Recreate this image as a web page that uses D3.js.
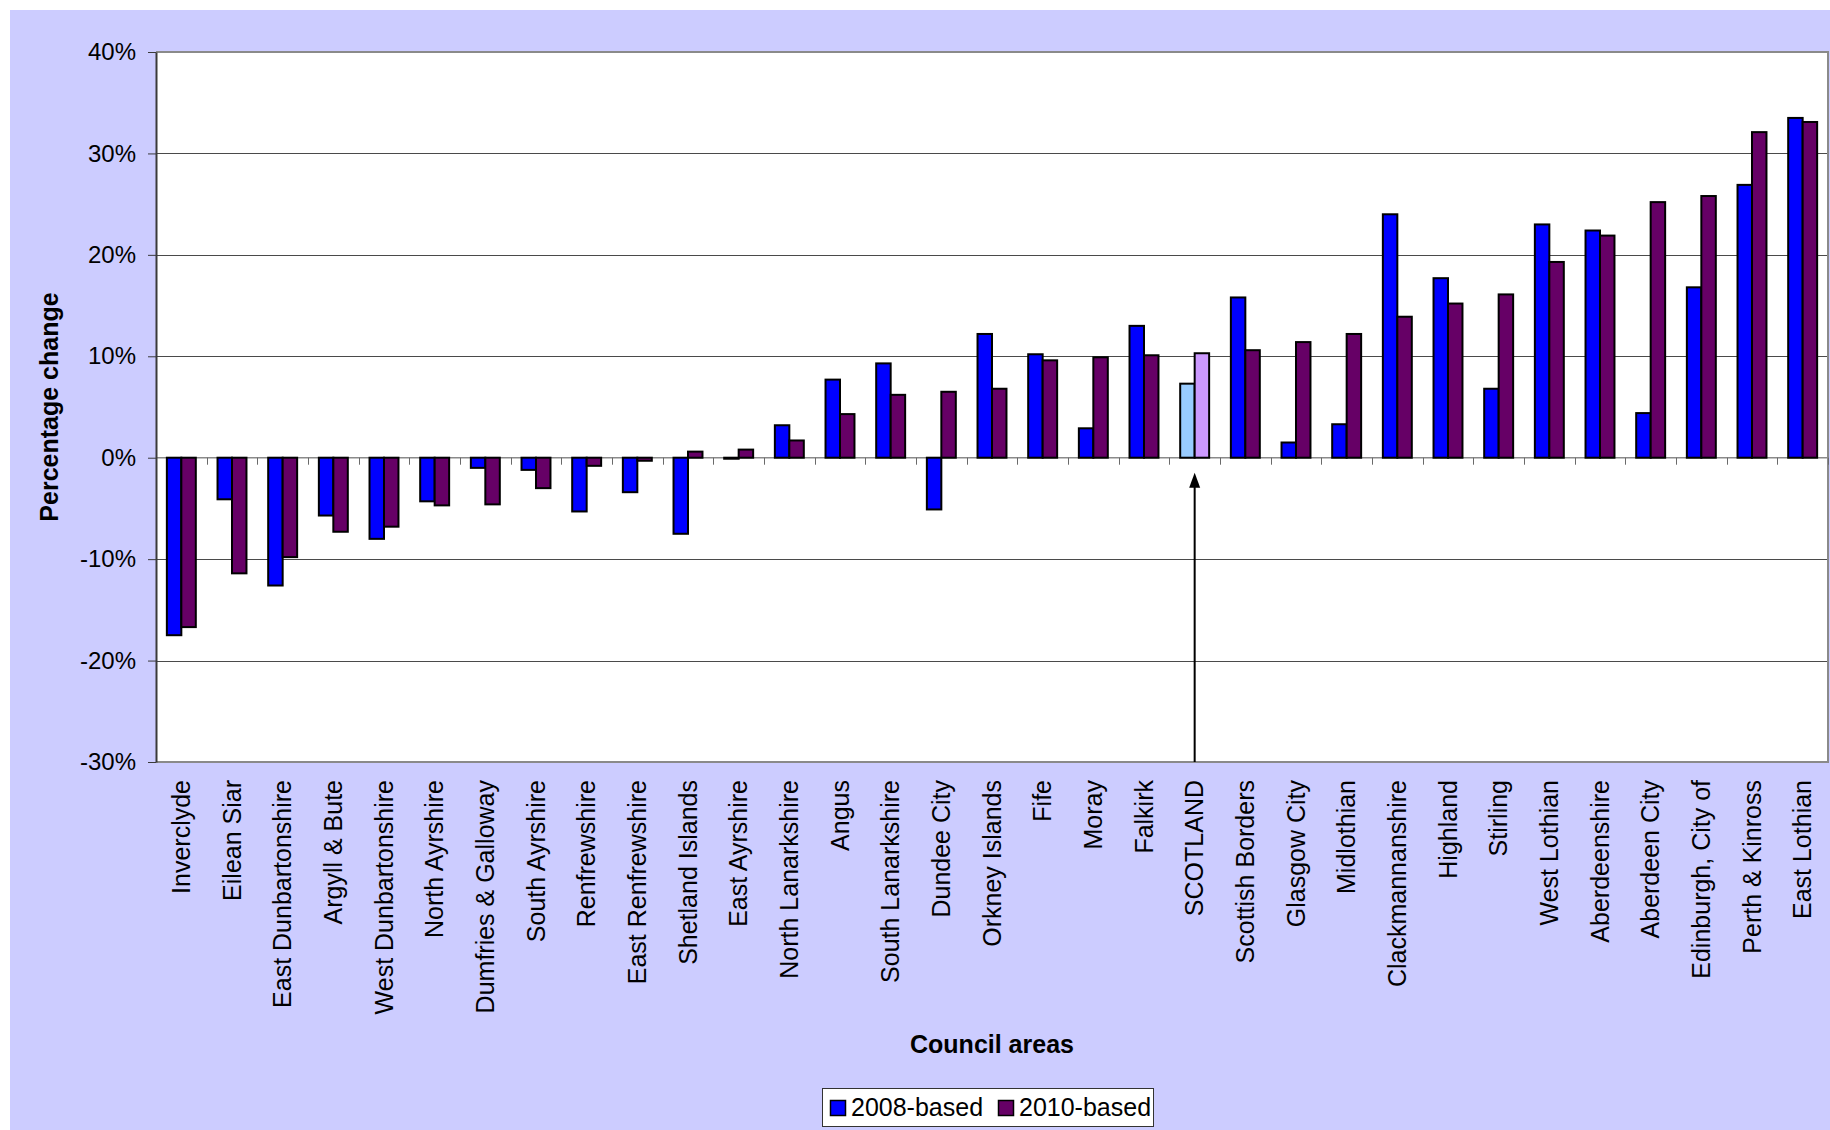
<!DOCTYPE html>
<html>
<head>
<meta charset="utf-8">
<script src="https://cdn.jsdelivr.net/npm/d3@7"></script>
<style>
  html, body { margin: 0; padding: 0; background: #ffffff; }
  svg { display: block; }
  text { font-family: "Liberation Sans", Arial, Helvetica, sans-serif; fill: #000; }
</style>
</head>
<body>
<svg id="chart" width="1830" height="1130"></svg>
<script>
// Projected percentage change in population by council area
const categories = [
  "Inverclyde", "Eilean Siar", "East Dunbartonshire", "Argyll & Bute",
  "West Dunbartonshire", "North Ayrshire", "Dumfries & Galloway", "South Ayrshire",
  "Renfrewshire", "East Renfrewshire", "Shetland Islands", "East Ayrshire",
  "North Lanarkshire", "Angus", "South Lanarkshire", "Dundee City",
  "Orkney Islands", "Fife", "Moray", "Falkirk", "SCOTLAND", "Scottish Borders",
  "Glasgow City", "Midlothian", "Clackmannanshire", "Highland", "Stirling",
  "West Lothian", "Aberdeenshire", "Aberdeen City", "Edinburgh, City of",
  "Perth & Kinross", "East Lothian"
];

const based2008 = [
  -17.5, -4.1, -12.6, -5.7, -8.0, -4.3, -1.0, -1.2, -5.3, -3.4, -7.5, -0.1,
  3.2, 7.7, 9.3, -5.1, 12.2, 10.2, 2.9, 13.0, 7.3, 15.8, 1.5, 3.3, 24.0, 17.7,
  6.8, 23.0, 22.4, 4.4, 16.8, 26.9, 33.5
];

const based2010 = [
  -16.7, -11.4, -9.8, -7.3, -6.8, -4.7, -4.6, -3.0, -0.8, -0.3, 0.6, 0.8,
  1.7, 4.3, 6.2, 6.5, 6.8, 9.6, 9.9, 10.1, 10.3, 10.6, 11.4, 12.2, 13.9, 15.2,
  16.1, 19.3, 21.9, 25.2, 25.8, 32.1, 33.1
];

const seriesNames = ["2008-based", "2010-based"];
const yTicks = [-30, -20, -10, 0, 10, 20, 30, 40];
const highlight = "SCOTLAND";

const colors = { "2008-based": "#0000ff", "2010-based": "#660066" };
const highlightColors = { "2008-based": "#99ccff", "2010-based": "#cc99ff" };

const svg = d3.select("#chart");
const W = 1830, H = 1130;
const plot = { left: 156, right: 1828, top: 52, bottom: 762 };

// Page background panel
svg.append("rect").attr("x", 10).attr("y", 10).attr("width", W - 10).attr("height", H - 10)
  .attr("fill", "#ccccff");

// Scales
const x0 = d3.scaleBand().domain(categories).range([plot.left, plot.right]).padding(0);
const x1 = d3.scaleBand().domain(seriesNames).range([0, x0.bandwidth()])
  .paddingInner(0).paddingOuter(0.75);
const y = d3.scaleLinear().domain([-30, 40]).range([plot.bottom, plot.top]);

// Plot area
svg.append("rect").attr("x", plot.left).attr("y", plot.top)
  .attr("width", plot.right - plot.left).attr("height", plot.bottom - plot.top)
  .attr("fill", "#ffffff");

// Horizontal gridlines
svg.append("g").selectAll("line")
  .data(yTicks.filter(t => t !== 0 && t !== -30 && t !== 40))
  .join("line")
  .attr("x1", plot.left).attr("x2", plot.right)
  .attr("y1", d => Math.round(y(d)) + 0.5).attr("y2", d => Math.round(y(d)) + 0.5)
  .attr("stroke", "#4a4a4a").attr("stroke-width", 1);

// Frame: top, right and bottom edges
const frame = d3.path();
frame.moveTo(plot.left, plot.top);
frame.lineTo(plot.right, plot.top);
frame.lineTo(plot.right, plot.bottom);
frame.lineTo(plot.left, plot.bottom);
svg.append("path").attr("d", frame.toString()).attr("fill", "none")
  .attr("stroke", "#8a8a8a").attr("stroke-width", 2);

// Category axis at zero with tick marks on the category boundaries
const zeroY = y(0);
svg.append("line").attr("x1", plot.left).attr("x2", plot.right)
  .attr("y1", zeroY).attr("y2", zeroY)
  .attr("stroke", "#8a8a8a").attr("stroke-width", 1.5);
const boundaries = categories.map(c => x0(c)).concat([x0.range()[1]]);
svg.append("g").selectAll("line").data(boundaries).join("line")
  .attr("x1", d => Math.round(d) + 0.5).attr("x2", d => Math.round(d) + 0.5)
  .attr("y1", zeroY).attr("y2", zeroY + 7)
  .attr("stroke", "#6a6a6a").attr("stroke-width", 1);

// Bars
const rows = categories.map((c, i) => ({
  category: c,
  values: [
    { key: "2008-based", value: based2008[i] },
    { key: "2010-based", value: based2010[i] }
  ]
}));

const groups = svg.append("g").selectAll("g").data(rows).join("g")
  .attr("transform", d => `translate(${x0(d.category)},0)`);

groups.selectAll("rect")
  .data(d => d.values.map(v => ({ ...v, category: d.category })))
  .join("rect")
  .attr("x", d => x1(d.key))
  .attr("width", x1.bandwidth())
  .attr("y", d => y(Math.max(0, d.value)))
  .attr("height", d => Math.abs(y(d.value) - y(0)))
  .attr("fill", d => d.category === highlight ? highlightColors[d.key] : colors[d.key])
  .attr("stroke", "#000").attr("stroke-width", 2);

// Value axis
const yAxis = d3.axisLeft(y).tickValues(yTicks).tickFormat(d => `${d}%`)
  .tickSize(8).tickPadding(12).tickSizeOuter(0);
const gy = svg.append("g").attr("transform", `translate(${plot.left},0)`).call(yAxis);
gy.select(".domain").attr("stroke", "#3a3a3a").attr("stroke-width", 2);
gy.selectAll(".tick line").attr("stroke", "#3a3a3a");
gy.selectAll(".tick text")
  .style("font-family", '"Liberation Sans", Arial, sans-serif')
  .style("font-size", "24px").attr("fill", "#000");

// Category labels
svg.append("g").selectAll("text").data(categories).join("text")
  .attr("transform", d => `translate(${x0(d) + x0.bandwidth() / 2},780) rotate(-90)`)
  .attr("text-anchor", "end").attr("dy", "0.35em")
  .style("font-size", "25px")
  .text(d => d);

// Arrow pointing at the Scotland bars
const ax = x0(highlight) + x0.bandwidth() / 2;
const tipY = zeroY + 15;
svg.append("line").attr("x1", ax).attr("x2", ax)
  .attr("y1", plot.bottom).attr("y2", tipY + 12)
  .attr("stroke", "#000").attr("stroke-width", 2);
svg.append("path")
  .attr("d", `M${ax},${tipY} L${ax - 5.5},${tipY + 15} L${ax + 5.5},${tipY + 15} Z`)
  .attr("fill", "#000");

// Axis titles
svg.append("text")
  .attr("transform", `translate(58,${(plot.top + plot.bottom) / 2}) rotate(-90)`)
  .attr("text-anchor", "middle")
  .style("font-size", "25px").style("font-weight", "bold")
  .text("Percentage change");

svg.append("text")
  .attr("x", (plot.left + plot.right) / 2).attr("y", 1053)
  .attr("text-anchor", "middle")
  .style("font-size", "25px").style("font-weight", "bold")
  .text("Council areas");

// Legend
const legend = svg.append("g");
legend.append("rect").attr("x", 822.5).attr("y", 1088.5).attr("width", 331).attr("height", 38)
  .attr("fill", "#ffffff").attr("stroke", "#333").attr("stroke-width", 1);
const legendX = [830, 998];
seriesNames.forEach((s, i) => {
  legend.append("rect").attr("x", legendX[i] + 0.5).attr("y", 1100.5)
    .attr("width", 15).attr("height", 15)
    .attr("fill", colors[s]).attr("stroke", "#000").attr("stroke-width", 1.5);
  legend.append("text").attr("x", legendX[i] + 21).attr("y", 1116)
    .style("font-size", "25px").text(s);
});
</script>
</body>
</html>
